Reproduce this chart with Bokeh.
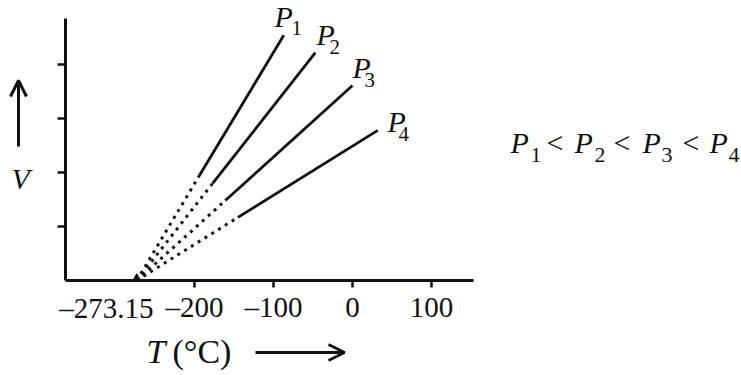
from bokeh.plotting import figure
from bokeh.models import Label, Arrow, OpenHead, FixedTicker, Range1d
from bokeh.embed import file_html
from bokeh.resources import INLINE

# ---- data ----
pressures = ["1", "2", "3", "4"]           # P1 .. P4
t_top = [-87, -47, 0, 32]                  # end of each solid line (deg C)
v_top = [4.54, 4.22, 3.61, 2.78]           # volume at that end (arbitrary units)
t_start = [-194, -177, -161, -145]         # start of the solid (measured) part
v_start = [1.94, 1.80, 1.48, 1.17]
t_zero = -273.15                           # extrapolated absolute zero
x_ticks = [-200, -100, 0, 100]
x_tick_labels = ["\u2013200", "\u2013100", "0", "100"]
y_ticks = [1, 2, 3, 4]

# ---- layout helpers (screen placement) ----
W, H = 741, 375
X0_PX, SX = 352, 0.79      # pixel of 0 deg C, pixels per deg C
Y0_PX, SY = 280, 54        # pixel of V = 0, pixels per V unit
BASE_FIX = 0.42            # label baseline correction, in em


def tx(px):
    return (px - X0_PX) / SX


def vy(py):
    return (Y0_PX - py) / SY


SERIF = "Liberation Serif"
INK = "#111111"

p = figure(width=W, height=H,
           x_range=Range1d(tx(0), tx(W)), y_range=Range1d(vy(H), vy(0)),
           output_backend="svg", toolbar_location=None, min_border=0)
p.title.visible = False
p.grid.visible = False
p.outline_line_color = None
p.background_fill_color = "white"
p.border_fill_color = "white"

# axes, pinned inside the frame at V = 0 and at the left edge of the chart
xa = p.xaxis[0]
xa.fixed_location = 0
xa.ticker = FixedTicker(ticks=x_ticks)
xa.major_label_overrides = {t: s for t, s in zip(x_ticks, x_tick_labels)}
xa.bounds = (tx(65), tx(473))
xa.axis_line_width = 3
xa.axis_line_color = INK
xa.major_tick_line_width = 2.5
xa.major_tick_line_color = INK
xa.major_tick_out = 7
xa.major_tick_in = 0
xa.minor_tick_out = 0
xa.minor_tick_in = 0
xa.major_label_text_font = SERIF
xa.major_label_text_font_size = "29px"
xa.major_label_text_color = INK
xa.major_label_standoff = 3

ya = p.yaxis[0]
ya.fixed_location = tx(65)
ya.ticker = FixedTicker(ticks=y_ticks)
ya.major_label_overrides = {t: "" for t in y_ticks}
ya.bounds = (0, vy(18))
ya.axis_line_width = 3
ya.axis_line_color = INK
ya.major_tick_line_width = 2.5
ya.major_tick_line_color = INK
ya.major_tick_out = 8
ya.major_tick_in = 0
ya.minor_tick_out = 0
ya.minor_tick_in = 0

# lines: dotted extrapolation + solid measured part
p.segment(x0=[t_zero] * len(t_start), y0=[0] * len(t_start), x1=t_start, y1=v_start,
          line_color=INK, line_width=3, line_dash="3 5")
p.segment(x0=t_start, y0=v_start, x1=t_top, y1=v_top, line_color=INK, line_width=2.8)
p.scatter([t_zero], [0.05], marker="triangle", size=7, color=INK)


def lab(x_px, base_px, text, size, italic=False, align="left", x=None, x_offset=0):
    p.add_layout(Label(x=tx(x_px) if x is None else x, x_offset=x_offset,
                       y=vy(base_px - BASE_FIX * size), text=text, text_font=SERIF,
                       text_font_size=f"{size}px", text_color=INK,
                       text_font_style="italic" if italic else "normal",
                       text_align=align, text_baseline="alphabetic"))


# P labels at the line ends
p_pos = [(274, 29, 291, 36), (316, 47, 329, 55), (352, 80, 364, 88), (387, 134, 398, 142)]
for num, (px, pb, sx, sb) in zip(pressures, p_pos):
    lab(px, pb, "P", 30, italic=True)
    lab(sx, sb, num, 21)

# -273.15 label (placed left of the absolute-zero point)
lab(0, 320, "\u2013273.15", 29, align="right", x=t_zero,
    x_offset=153 - (X0_PX + SX * t_zero))

# axis titles
lab(11, 191, "V", 30, italic=True)
p.add_layout(Arrow(end=OpenHead(size=16, line_width=3, line_color=INK),
                   x_start=tx(18), y_start=vy(146), x_end=tx(18), y_end=vy(80),
                   line_width=3, line_color=INK))
lab(146, 365, "T", 34, italic=True)
lab(172, 365, "(\u00b0C)", 34)
p.add_layout(Arrow(end=OpenHead(size=16, line_width=3, line_color=INK),
                   x_start=tx(255), y_start=vy(352), x_end=tx(344), y_end=vy(352),
                   line_width=3, line_color=INK))

# relation P1 < P2 < P3 < P4
rel = [(510, "P", True, 30, 155), (530, pressures[0], False, 22, 164), (546, "<", False, 30, 155),
       (574, "P", True, 30, 155), (594, pressures[1], False, 22, 164), (613, "<", False, 30, 155),
       (642, "P", True, 30, 155), (661, pressures[2], False, 22, 164), (682, "<", False, 30, 155),
       (709, "P", True, 30, 155), (728, pressures[3], False, 22, 164)]
for x_px, txt, it, sz, b in rel:
    lab(x_px, b, txt, sz, italic=it)

open("out.html", "w").write(file_html(p, INLINE))
